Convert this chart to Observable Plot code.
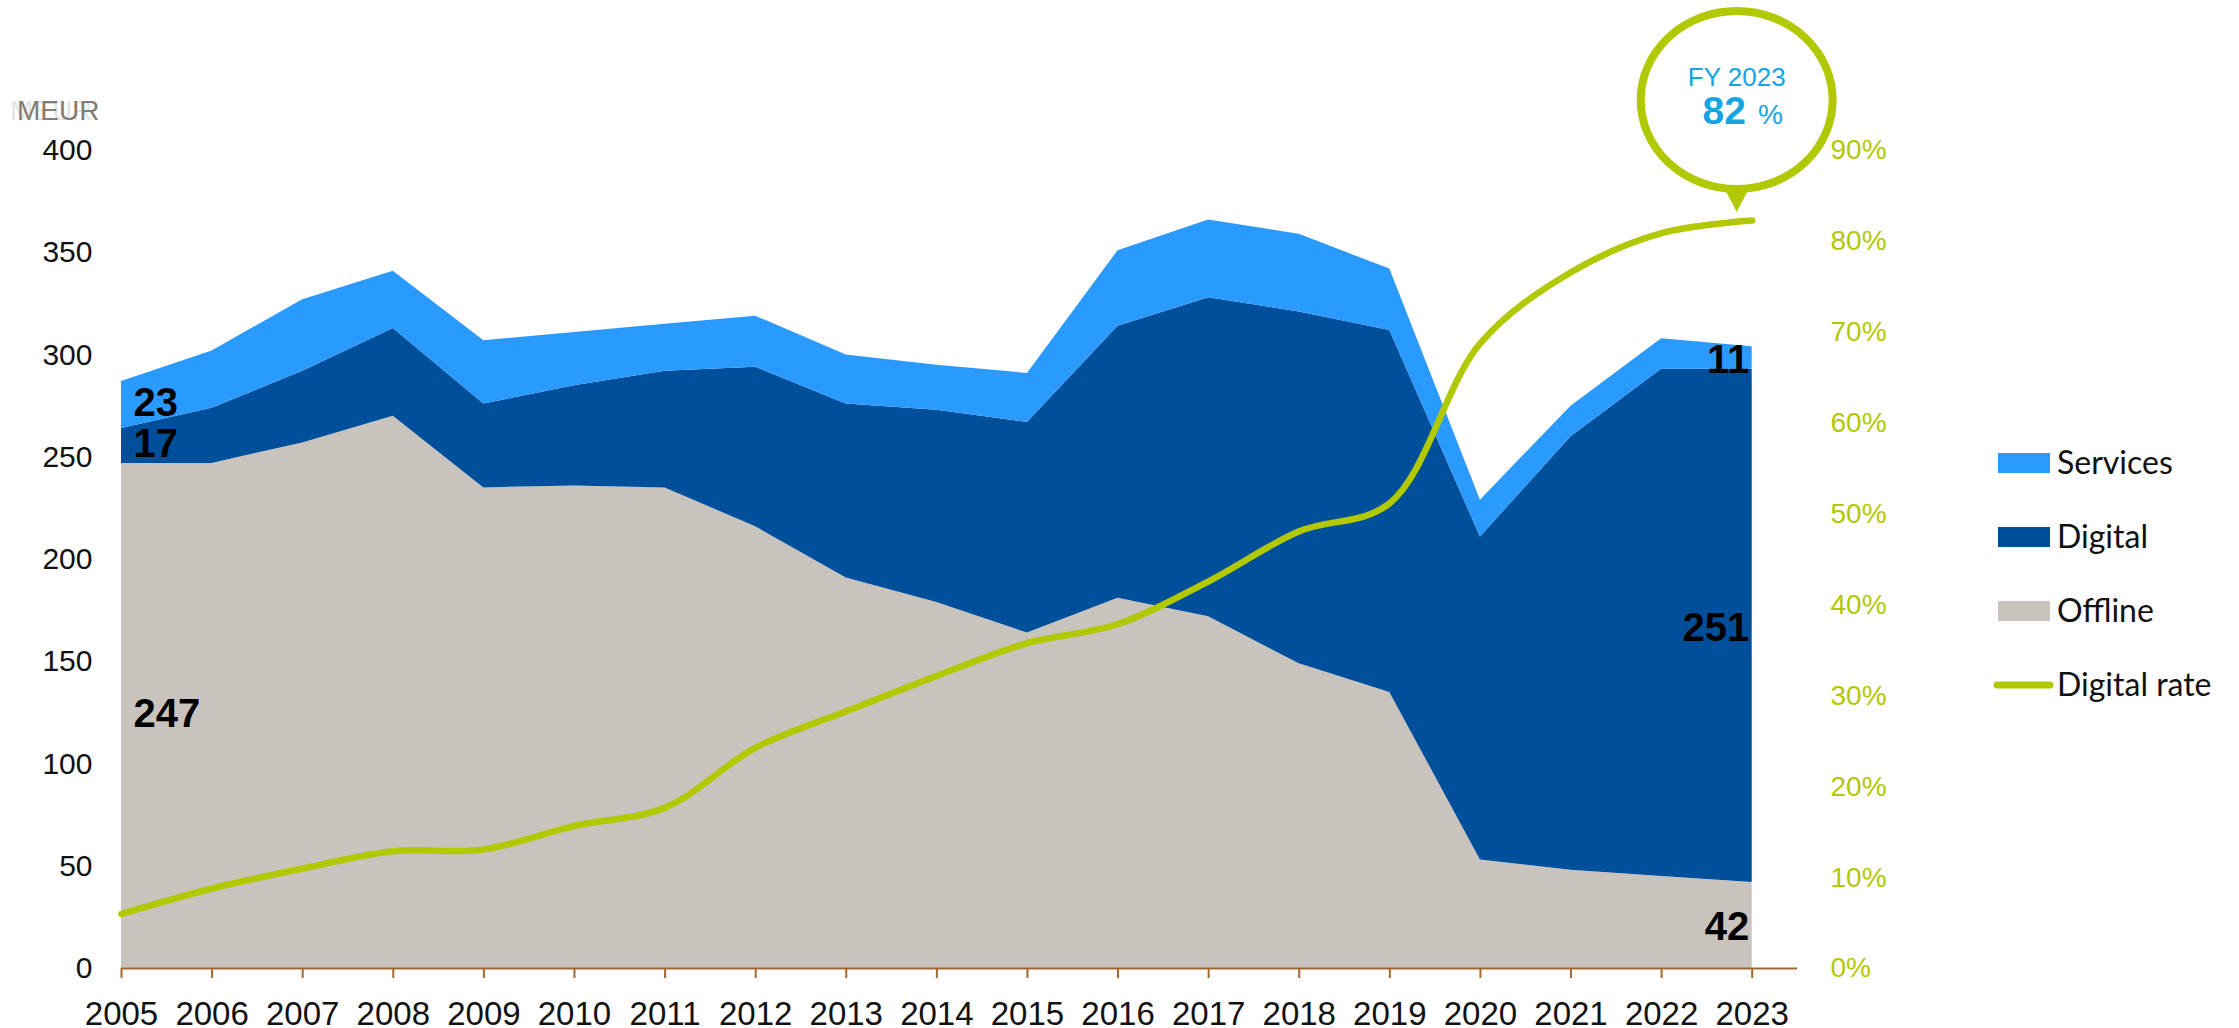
<!DOCTYPE html>
<html>
<head>
<meta charset="utf-8">
<script src="https://cdn.jsdelivr.net/npm/d3@7"></script>
<script src="https://cdn.jsdelivr.net/npm/@observablehq/plot@0.6"></script>
<style>
  body { margin: 0; background: #fff; }
  #chart svg { display: block; }
</style>
</head>
<body>
<div id="chart"></div>
<script>
// ---- data ----
const years = [2005,2006,2007,2008,2009,2010,2011,2012,2013,2014,2015,2016,2017,2018,2019,2020,2021,2022,2023];
const offline  = [247,247,257,270,235,236,235,216,191,179,164,181,172,149,135,53,48,45,42];
const digital  = [17,27,35,43,41,49,57,78,85,94,103,133,156,172,177,158,212,248,251];
const services = [23,28,35,28,31,26,23,25,24,22,24,37,38,38,30,18,15,15,11];
const digitalRate = [6.0,8.8,11.0,12.9,13.1,15.7,17.7,24.3,28.3,32.2,35.8,37.9,42.6,48.1,51.2,68.8,76.6,80.9,82.3]; // %
const yTicks = [0,50,100,150,200,250,300,350,400];
const rateTicks = [0,10,20,30,40,50,60,70,80,90];
const seriesNames = ["Services","Digital","Offline"];
const seriesColors = ["#2b9aff","#004f9b","#c8c3bd"];
const stackOrder = ["Offline","Digital","Services"];
const rateName = "Digital rate";
const calloutTitle = "FY 2023";
const calloutValue = "82";
const unitLabel = "MEUR";

// ---- styles ----
const green = "#b2c800";
const brown = "#a2662f";
const calloutBlue = "#14a4e4";
const yMax = 400, rateMax = 90;
const toY = p => p * yMax / rateMax;

// ---- tables ----
const series = {Offline: offline, Digital: digital, Services: services};
const rows = [];
years.forEach((yr, i) => {
  for (const name of stackOrder) rows.push({year: yr, type: name, value: series[name][i]});
});
const rateRows = years.map((yr, i) => ({year: yr, rate: digitalRate[i]}));

function bandLabels(i) {
  let base = 0;
  return stackOrder.map(name => {
    const v = series[name][i];
    const mid = base + v / 2;
    base += v;
    return {year: years[i], mid, text: String(v)};
  });
}
const firstLabels = bandLabels(0);
const lastLabels = bandLabels(years.length - 1);

const plot = Plot.plot({
  width: 2239,
  height: 1028,
  marginLeft: 121,
  marginRight: 442,
  marginTop: 150,
  marginBottom: 60,
  style: {fontFamily: "'Liberation Sans', Arial, sans-serif", fontSize: "30px", background: "#fff", overflow: "visible"},
  x: {domain: [years[0], years[years.length - 1] + 0.5]},
  y: {domain: [0, yMax]},
  color: {domain: seriesNames, range: seriesColors},
  marks: [
    Plot.areaY(rows, {x: "year", y: "value", fill: "type", order: stackOrder}),
    Plot.ruleY([0], {stroke: brown, strokeWidth: 2}),
    Plot.axisX(years, {anchor: "bottom", tickSize: 10, tickPadding: 23, stroke: brown, strokeWidth: 2, fill: "#111",
      fontSize: 33, tickFormat: d => String(d), label: null, fontFamily: "'Liberation Sans Narrow', 'Liberation Sans', Arial, sans-serif"}),
    Plot.axisY(yTicks, {anchor: "left", tickSize: 0, tickPadding: 29, fill: "#111", fontSize: 30, label: null}),
    Plot.axisY(rateTicks.map(toY), {anchor: "right", tickSize: 0, tickPadding: 33, fill: green, fontSize: 28, label: null,
      tickFormat: d => Math.round(d * rateMax / yMax) + "%"}),
    Plot.line(rateRows, {x: "year", y: d => toY(d.rate), stroke: green, strokeWidth: 6.5, curve: "catmull-rom"}),
    Plot.text(firstLabels, {x: "year", y: "mid", text: "text", textAnchor: "start", dx: 12, dy: -2, fontSize: 40, fontWeight: "bold", fill: "#000"}),
    Plot.text(lastLabels, {x: "year", y: "mid", text: "text", textAnchor: "end", dx: -3, dy: 2, fontSize: 40, fontWeight: "bold", fill: "#000"})
  ]
});

document.getElementById("chart").appendChild(plot);

// ---- annotations (positions via the plot's scales) ----
const svg = d3.select(plot);
const xs = plot.scale("x"), ys = plot.scale("y");
const lastX = xs.apply(years[years.length - 1]);
const lastRateY = ys.apply(toY(digitalRate[digitalRate.length - 1]));

// unit label
const unit = svg.append("g").attr("text-anchor", "start").attr("font-size", 28);
unit.append("text").attr("x", 10).attr("y", 120).attr("fill", "#e4e4e4").text(unitLabel);
unit.append("text").attr("x", 17).attr("y", 120).attr("fill", "#857b70").text(unitLabel);

// callout bubble
const cx = lastX - 15, cy = 100, rx = 96, ry = 89;
const g = svg.append("g");
g.append("path")
  .attr("d", `M${cx - 13},${cy + ry - 2} L${cx},${lastRateY - 8} L${cx + 13},${cy + ry - 2} Z`)
  .attr("fill", green);
g.append("ellipse").attr("cx", cx).attr("cy", cy).attr("rx", rx).attr("ry", ry)
  .attr("fill", "#fff").attr("stroke", green).attr("stroke-width", 8);
g.append("text").attr("x", cx).attr("y", 86).attr("text-anchor", "middle")
  .attr("fill", calloutBlue).attr("font-size", 26).text(calloutTitle);
const t2 = g.append("text").attr("x", cx + 6).attr("y", 124).attr("text-anchor", "middle").attr("fill", calloutBlue);
t2.append("tspan").attr("font-size", 39).attr("font-weight", "bold").text(calloutValue);
t2.append("tspan").attr("font-size", 28).attr("dx", 12).text("%");

// legend
const legend = svg.append("g").attr("text-anchor", "start")
  .attr("font-family", "Lato, 'Liberation Sans', sans-serif").attr("font-size", 32).attr("fill", "#111");
const legendY = [463, 537, 611];
seriesNames.forEach((name, i) => {
  legend.append("rect").attr("x", 1998).attr("y", legendY[i] - 10).attr("width", 52).attr("height", 20).attr("fill", seriesColors[i]);
  legend.append("text").attr("x", 2057).attr("y", legendY[i] + 11).text(name);
});
legend.append("line").attr("x1", 1997).attr("x2", 2050).attr("y1", 685).attr("y2", 685)
  .attr("stroke", green).attr("stroke-width", 7).attr("stroke-linecap", "round");
legend.append("text").attr("x", 2057).attr("y", 696).text(rateName);
</script>
</body>
</html>
